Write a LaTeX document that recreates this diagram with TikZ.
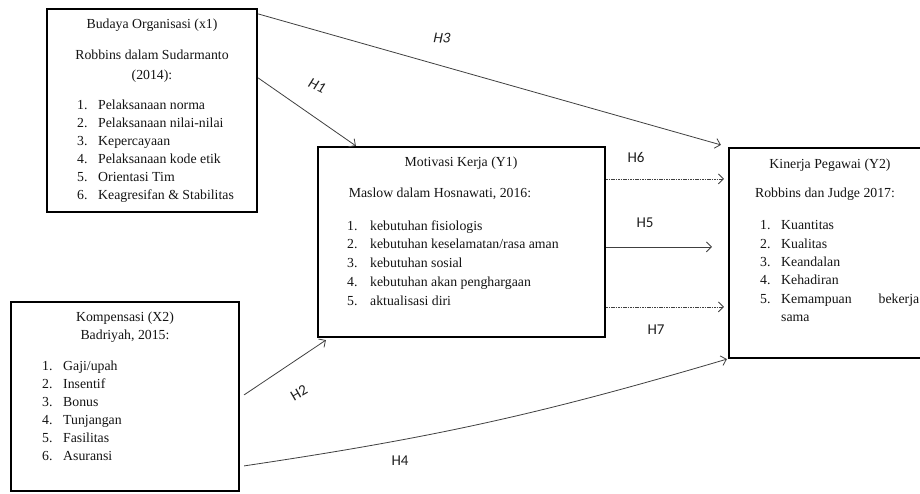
\documentclass[tikz,border=0pt]{standalone}
\usepackage{fontspec}
\setmainfont{Liberation Serif}
\newfontfamily\labfont{Carlito}
\usetikzlibrary{arrows.meta,calc}

\begin{document}
\begin{tikzpicture}[x=1pt,y=-1pt,
    box/.style={draw=black,line width=2.2pt,rectangle,inner sep=0pt},
    txt/.style={inner sep=0pt,text height=9.5pt,text depth=3pt,text=black!92,
        font=\fontsize{13.8}{16}\selectfont},
    item/.style={txt,anchor=west},
    hyp/.style={inner sep=0pt,text=black!88,font=\labfont\fontsize{15}{17}\selectfont},
    link/.style={draw=black!75,line width=0.8pt,-{Straight Barb[length=5pt,width=10pt]}},
    dlink/.style={link,dash pattern=on 1.6pt off 0.8pt}]
    \useasboundingbox[fill=white] (0,0) rectangle (920,493);

    % Budaya Organisasi
    \node[box,minimum width=210pt,minimum height=203pt] (budaya) at (152,110.5) {};
    \node[txt] (budaya-t) at (152,25) {Budaya Organisasi (x1)};
    \node[txt] (budaya-a) at (152,56) {Robbins dalam Sudarmanto};
    \node[txt] (budaya-b) at (152,76) {(2014):};
    \foreach \t [count=\i] in {Pelaksanaan norma, Pelaksanaan nilai-nilai, Kepercayaan,
        Pelaksanaan kode etik, Orientasi Tim, Keagresifan \& Stabilitas}
        \node[item] (budaya-\i) at (77,88+18*\i) {\makebox[21pt][l]{\i.}\t};

    % Kompensasi
    \node[box,minimum width=228pt,minimum height=189pt] (kompensasi) at (125,396.5) {};
    \node[txt] (kompensasi-t) at (125,318) {Kompensasi (X2)};
    \node[txt] (kompensasi-a) at (125,336) {Badriyah, 2015:};
    \foreach \t [count=\i] in {Gaji/upah, Insentif, Bonus, Tunjangan, Fasilitas, Asuransi}
        \node[item] (kompensasi-\i) at (42,349+18*\i) {\makebox[21pt][l]{\i.}\t};

    % Motivasi Kerja
    \node[box,minimum width=287pt,minimum height=190pt] (motivasi) at (461.5,242) {};
    \node[txt] (motivasi-t) at (461,163) {Motivasi Kerja (Y1)};
    \node[txt] (motivasi-a) at (440,194) {Maslow dalam Hosnawati, 2016:};
    \foreach \t [count=\i] in {kebutuhan fisiologis, kebutuhan keselamatan/rasa aman,
        kebutuhan sosial, kebutuhan akan penghargaan, aktualisasi diri}
        \node[item] (motivasi-\i) at (347,208+18.75*\i) {\makebox[23pt][l]{\i.}\t};

    % Kinerja Pegawai
    \node[box,minimum width=206pt,minimum height=210pt] (kinerja) at (832,253) {};
    \node[txt] (kinerja-t) at (830,165) {Kinerja Pegawai (Y2)};
    \node[txt] (kinerja-a) at (825,194) {Robbins dan Judge 2017:};
    \foreach \t [count=\i] in {Kuantitas, Kualitas, Keandalan, Kehadiran}
        \node[item] (kinerja-\i) at (760,208.4+18.3*\i) {\makebox[21pt][l]{\i.}\t};
    \node[item] (kinerja-5) at (760,300) {\makebox[21pt][l]{5.}\makebox[138pt][s]{Kemampuan bekerja}};
    \node[item] (kinerja-6) at (781,318.3) {sama};

    % hipotesis
    \draw[link] ($(budaya.north east)+(0,70)$) -- ($(motivasi.north west)+(39,0)$);
    \draw[link] ($(budaya.north east)+(0,6)$) -- ($(kinerja.north west)+(-7,-2)$);
    \draw[link] ($(kompensasi.north east)+(4,94)$) -- ($(motivasi.south west)+(9,2)$);
    \draw[link] ($(kompensasi.north east)+(4,165)$) to[bend right=4] ($(kinerja.south west)+(-1,0)$);
    \draw[dlink] ($(motivasi.north east)+(0,33)$) -- ($(kinerja.north west)+(-4,32)$);
    \draw[link] ($(motivasi.north east)+(0,101)$) -- ($(kinerja.north west)+(-16,100)$);
    \draw[dlink] ($(motivasi.north east)+(0,161)$) -- ($(kinerja.north west)+(-4,160)$);

    \node[hyp,rotate=-25] (h1) at (317,86) {\itshape H1};
    \node[hyp,rotate=-5] (h3) at (442,38) {\itshape H3};
    \node[hyp,rotate=30] (h2) at (299,393) {H2};
    \node[hyp] (h4) at (400,461) {H4};
    \node[hyp] (h6) at (636,157) {H6};
    \node[hyp] (h5) at (645,223) {H5};
    \node[hyp] (h7) at (656,330) {H7};
\end{tikzpicture}
\end{document}
